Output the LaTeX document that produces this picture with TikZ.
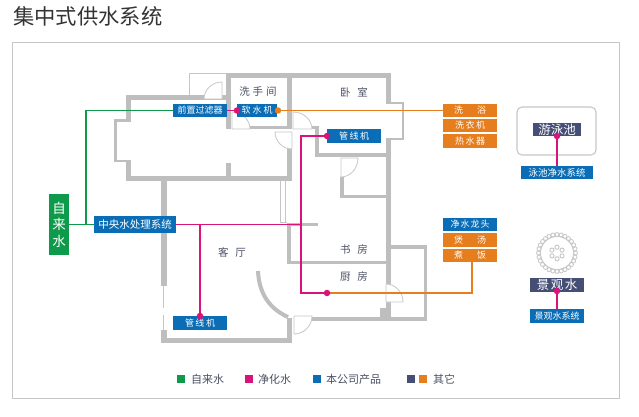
\documentclass[tikz,border=0pt]{standalone}
\usepackage{fontspec}
\setmainfont{Noto Sans CJK SC}
\usetikzlibrary{calc}
\pgfdeclarelayer{walls}
\pgfdeclarelayer{pipes}
\pgfsetlayers{walls,pipes,main}
\definecolor{wallc}{HTML}{BEBEBE}
\definecolor{thinc}{HTML}{C6C6C6}
\definecolor{pgreen}{HTML}{0E9A4B}
\definecolor{ppink}{HTML}{D9137A}
\definecolor{pblue}{HTML}{0A6DB5}
\definecolor{porange}{HTML}{E67E1E}
\definecolor{pnavy}{HTML}{454F75}
\definecolor{labc}{HTML}{4A4F63}
\newcommand\wall[2]{\fill[wallc] (#1) rectangle (#2);}
\newcommand\doorleaf[3]{\draw[thinline] (#1) -- (#2) .. controls ($(#2)+0.55*(#3)-0.55*(#1)$) and ($(#3)+0.55*(#2)-0.55*(#1)$) .. (#3) -- cycle;}
\tikzset{
  thinline/.style={draw=thinc,line width=0.8pt,fill=white},
  tagbox/.style={inner sep=0pt,text=white,font=\fontsize{9}{9}\selectfont,minimum height=13.5pt},
  bluetag/.style={tagbox,fill=pblue},
  orangetag/.style={tagbox,fill=porange,minimum width=54pt},
  navytag/.style={tagbox,fill=pnavy,font=\fontsize{12.5}{12.5}\selectfont},
  roomlabel/.style={inner sep=0pt,text=labc,font=\fontsize{10.5}{10.5}\selectfont},
  legendtext/.style={inner sep=0pt,text=labc,anchor=west,font=\fontsize{11}{11}\selectfont},
  dotn/.style={circle,inner sep=0pt,minimum size=6.5pt,fill=ppink},
  odotn/.style={circle,inner sep=0pt,minimum size=6.5pt,fill=porange},
  greenpipe/.style={draw=pgreen,line width=1.5pt},
  pinkpipe/.style={draw=ppink,line width=1.5pt},
  orangepipe/.style={draw=porange,line width=1.5pt},
  swatch/.style={inner sep=0pt,minimum size=8pt}
}
\begin{document}
\begin{tikzpicture}[x=1pt,y=-1pt]
\useasboundingbox (0,0) rectangle (639,417);
\node[anchor=west,inner sep=0pt,text=black!80,font=\fontsize{21.3}{21.3}\selectfont] (title) at (13,16) {集中式供水系统};
\node[draw=thinc,line width=0.9pt,minimum width=607pt,minimum height=356pt,inner sep=0pt] (frame) at (316,220) {};

% floor plan
\begin{pgfonlayer}{walls}
\wall{126,95}{226,100}
\wall{126,95}{131,120}
\wall{114,119}{131,121.5}
\wall{114,119}{116.5,162}
\wall{114,160}{131,162}
\wall{126,160}{131,181}
\wall{126,176}{292,181}
\wall{226,73}{391,78}
\wall{226,73}{231,129}
\wall{226,163}{231,178}
\wall{250,126}{292,129}
\wall{287,73}{292,129}
\wall{287,132}{292,181}
\wall{386,73}{391,104}
\wall{386,102}{404,104}
\wall{402,102}{404,140}
\wall{386,138}{404,140}
\wall{386,138}{391,321}
\wall{312,126}{319,129}
\wall{315,126}{319,157}
\wall{315,153}{391,157}
\wall{340,177}{344,198}
\wall{340,195}{391,198}
\wall{287,223}{318,225.5}
\wall{287,223}{291,264}
\wall{287,261}{391,264}
\wall{386,245}{427,249}
\wall{424,245}{427,321}
\wall{312,317}{427,321}
\wall{380,308}{390,318}
\wall{161,181}{167,286}
\wall{161,330}{167,343}
\wall{161,338}{292,343}
\wall{287,318}{292,343}
\draw[thinc,line width=0.8pt,fill=white] (189,95) -- (189,73) -- (226,73);
\draw[thinc,line width=0.8pt] (280,181) -- (280,222) -- (287,222);
\draw[thinc,line width=0.8pt] (285,181) -- (285,222);
\draw[thinc,line width=0.8pt] (163,286) -- (163,308);
\draw[thinc,line width=0.8pt] (163,315) -- (163,330);
\draw[wallc,line width=4pt] (258,271) .. controls (259,292) and (268,308) .. (288,317);
\doorleaf{222,99}{222,82}{204,99}
\doorleaf{232,129}{232,112}{250,129}
\doorleaf{293,129}{293,112}{312,129}
\doorleaf{292,132}{275,132}{292,149}
\doorleaf{341,158}{358,158}{341,177}
\doorleaf{386,302}{386,284}{403,302}
\doorleaf{294,316}{312,316}{294,334}
% pool and fountain outlines
\draw[thinc,line width=1.1pt,rounded corners=5pt] (517,107) rectangle (596,155);
\draw[thinc,line width=0.8pt] (557,253) circle (16.5);
\foreach \a in {0,12.857,...,359} \draw[thinc,line width=0.8pt,fill=white] ($(557,253)+(\a:18.5)$) circle (2);
\foreach \a in {30,90,...,359} \draw[thinc,line width=0.9pt] ($(557,253)+(\a:5.8)$) circle (2.1);
\end{pgfonlayer}

% room labels
\node[roomlabel] (rwash) at (258,92) {洗\hspace{3pt}手\hspace{3pt}间};
\node[roomlabel] (rbed) at (354,92) {卧\hspace{7pt}室};
\node[roomlabel] (rliving) at (232,252) {客\hspace{7pt}厅};
\node[roomlabel] (rstudy) at (354,249) {书\hspace{7pt}房};
\node[roomlabel] (rkitchen) at (354,276) {厨\hspace{7pt}房};

% boxes
\node[inner sep=0pt,fill=pgreen,text=white,minimum width=20pt,minimum height=61pt,align=center,font=\fontsize{13.5}{16.5}\selectfont] (tap) at (59,224.5) {自\\来\\水};
\node[bluetag,minimum width=82pt,minimum height=17pt,font=\fontsize{10.5}{10.5}\selectfont] (central) at (135,224.5) {中央水处理系统};
\node[bluetag,minimum width=54pt] (prefilter) at (200,110.5) {前置过滤器};
\node[bluetag,minimum width=40pt] (softener) at (257,110.5) {软\hspace{2pt}水\hspace{2pt}机};
\node[bluetag,minimum width=54pt] (lineup) at (354,136) {管\hspace{1.5pt}线\hspace{1.5pt}机};
\node[bluetag,minimum width=54pt] (linedown) at (200,323) {管\hspace{1.5pt}线\hspace{1.5pt}机};
\node[orangetag] (bath) at (470,110.5) {洗\hspace{14pt}浴};
\node[orangetag] (washer) at (470,125.5) {洗\hspace{1.5pt}衣\hspace{1.5pt}机};
\node[orangetag] (heater) at (470,141) {热\hspace{1.5pt}水\hspace{1.5pt}器};
\node[bluetag,minimum width=54pt] (faucet) at (470,224.5) {净\hspace{1pt}水\hspace{1pt}龙\hspace{1pt}头};
\node[orangetag] (soup) at (470,240) {煲\hspace{14pt}汤};
\node[orangetag] (rice) at (470,255.5) {煮\hspace{14pt}饭};
\node[navytag,minimum width=48pt] (pool) at (557,129.5) {游泳池};
\node[bluetag,minimum width=72pt,font=\fontsize{9.5}{9.5}\selectfont] (poolsys) at (557,172.5) {泳池净水系统};
\node[navytag,minimum width=54pt] (fountain) at (557,285) {景\hspace{1.5pt}观\hspace{1.5pt}水};
\node[bluetag,minimum width=54pt] (fountsys) at (557,316) {景观水系统};

% dots
\node[dotn] (dsoft) at (237,110.5) {};
\node[odotn] (dsoftr) at (278,110.5) {};
\node[dotn] (dup) at (327,136) {};
\node[dotn] (ddown) at (200,316) {};
\node[dotn] (dkit) at (327,293) {};
\node[dotn] (dpool) at (557,136) {};
\node[dotn] (dfount) at (557,291) {};
\coordinate (gcorner) at (86,110.5);
\coordinate (gjoin) at (86,224.5);
\coordinate (pcorner) at (301,136);
\coordinate (pjoin) at (301,224.5);
\coordinate (pbranch) at (200,224.5);
\coordinate (pkit) at (301,293);
\coordinate (okit) at (472,293);
\coordinate (orice) at (472,262);

% connectors
\begin{pgfonlayer}{pipes}
\draw[greenpipe] (tap.east) -- (central.west);
\draw[greenpipe] (gjoin) -- (gcorner) -- (prefilter.west);
\draw[pinkpipe] (prefilter.east) -- (dsoft);
\draw[orangepipe] (dsoftr) -- (bath.west);
\draw[pinkpipe] (central.east) -- (pjoin);
\draw[pinkpipe] (pbranch) -- (ddown);
\draw[pinkpipe] (dup) -- (pcorner) -- (pkit) -- (dkit);
\draw[orangepipe] (dkit) -- (okit) -- (orice);
\draw[pinkpipe] (dpool) -- (poolsys.north);
\draw[pinkpipe] (dfount) -- (fountsys.north);
\end{pgfonlayer}

% legend
\node[swatch,fill=pgreen] (s1) at (181,379) {};
\node[legendtext] (t1) at (191,379) {自来水};
\node[swatch,fill=ppink] (s2) at (249,379) {};
\node[legendtext] (t2) at (258,379) {净化水};
\node[swatch,fill=pblue] (s3) at (317,379) {};
\node[legendtext] (t3) at (326,379) {本公司产品};
\node[swatch,fill=pnavy] (s4) at (411,379) {};
\node[swatch,fill=porange] (s5) at (423,379) {};
\node[legendtext] (t4) at (433,379) {其它};
\end{tikzpicture}
\end{document}
